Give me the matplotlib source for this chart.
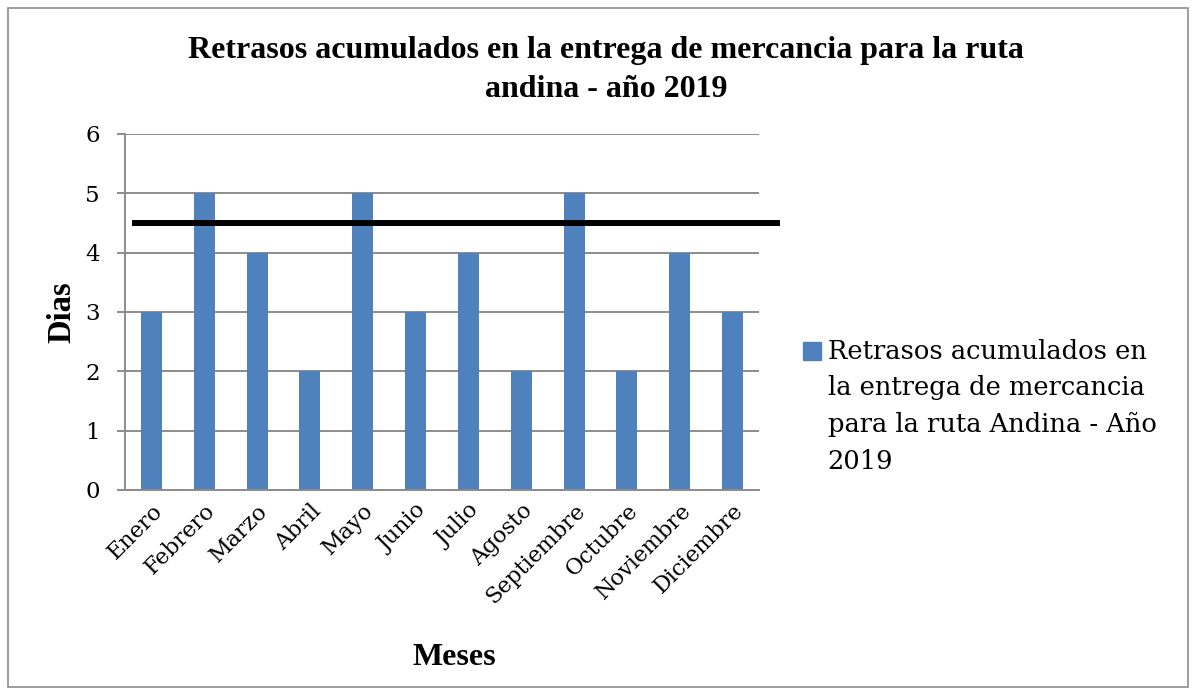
import matplotlib.pyplot as plt
from matplotlib.lines import Line2D
from matplotlib.patches import Rectangle

meses = ["Enero", "Febrero", "Marzo", "Abril", "Mayo", "Junio", "Julio",
         "Agosto", "Septiembre", "Octubre", "Noviembre", "Diciembre"]
retrasos = [3, 5, 4, 2, 5, 3, 4, 2, 5, 2, 4, 3]
limite = 4.5

serie = "Retrasos acumulados en\nla entrega de mercancia\npara la ruta Andina - Año\n2019"
titulo = "Retrasos acumulados en la entrega de mercancia para la ruta\nandina - año 2019"

plt.rcParams['font.family'] = ['DejaVu Serif']

fig = plt.figure(figsize=(11.96, 6.95), dpi=100)
ax = fig.add_axes([125 / 1196, 1 - 490 / 695, 634 / 1196, 356 / 695])

x = range(len(meses))
ax.bar(x, retrasos, width=0.4, color="#4F81BD", zorder=2)
ax.plot([-0.37, 11.9], [limite, limite], color="black", lw=4.3, zorder=3,
        clip_on=False, solid_capstyle="butt")

ax.set_xlim(-0.5, 11.5)
ax.set_ylim(0, 6)
ax.set_yticks(range(7))
ax.yaxis.grid(True, color="#8c8c8c", lw=1.4, zorder=0)
ax.set_axisbelow(True)
for s in ["top", "right"]:
    ax.spines[s].set_visible(False)
for s in ["left", "bottom"]:
    ax.spines[s].set_color("#8c8c8c")
    ax.spines[s].set_linewidth(1.4)
ax.tick_params(axis="y", length=6, width=1.4, color="#8c8c8c", labelsize=16.5,
               pad=12)
ax.tick_params(axis="x", length=0, labelsize=16, pad=7)
ax.set_xticks(list(x))
ax.set_xticklabels(meses, rotation=45, ha="right", rotation_mode="anchor")

ax.set_ylabel("Dias", family="Liberation Serif", fontweight="bold",
              fontsize=23.5)
ax.yaxis.set_label_coords(-0.075, 0.5)
ax.set_xlabel("Meses", family="Liberation Serif", fontweight="bold",
              fontsize=23)
ax.xaxis.set_label_coords(0.52, -0.43)

fig.text(0.507, 0.948, titulo, ha="center", va="top", family="Liberation Serif",
         fontweight="bold", fontsize=23, linespacing=1.45)

key = Line2D([], [], ls="none", marker="s", markersize=12.5,
             markerfacecolor="#4F81BD", markeredgecolor="#4F81BD")
leg = ax.legend([key], [serie], loc="upper left", bbox_to_anchor=(1.068, 0.425),
                frameon=False, fontsize=18.5, handlelength=0.75,
                handleheight=1.45, handletextpad=0.25, borderpad=0,
                borderaxespad=0)
for t in leg.get_texts():
    t.set_linespacing(1.58)
for row in leg._legend_handle_box.get_children()[0].get_children():
    row.align = "top"

fig.patches.append(Rectangle((8 / 1196, 8 / 695), 1180 / 1196, 679 / 695,
                             transform=fig.transFigure, fill=False,
                             edgecolor="#8c8c8c", lw=1.2))

fig.savefig("out.png", dpi=100)
